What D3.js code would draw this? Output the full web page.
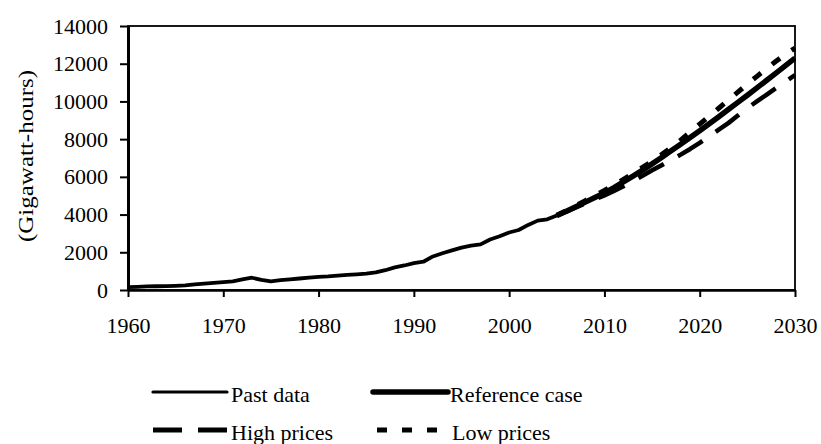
<!DOCTYPE html>
<html><head><meta charset="utf-8">
<script src="https://cdn.jsdelivr.net/npm/d3@7"></script>
<style>
html,body{margin:0;padding:0;background:#fff;}
svg text{font-family:"Liberation Serif","Times New Roman",serif;fill:#000;}
</style></head>
<body><svg id="c" width="821" height="444"></svg>
<script>
const pastYears = d3.range(1960, 2006);
const pastValues = [150,170,190,200,210,220,240,300,340,380,420,460,560,650,540,460,520,560,610,660,700,720,760,800,830,870,930,1050,1200,1300,1420,1500,1780,1950,2100,2250,2350,2420,2680,2850,3050,3180,3450,3680,3750,3950];
const projYears = d3.range(2005, 2031);
const referenceValues = [3950,4180,4420,4660,4900,5150,5430,5730,6040,6360,6690,7030,7380,7730,8090,8450,8820,9190,9570,9950,10330,10720,11110,11500,11900,12300];
const highValues = [3950,4150,4380,4600,4800,5020,5250,5500,5780,6060,6350,6620,6900,7180,7480,7800,8150,8500,8850,9250,9650,10000,10350,10700,11050,11400];
const lowValues = [3950,4210,4470,4740,5010,5280,5570,5870,6180,6500,6830,7180,7550,7950,8370,8800,9220,9640,10070,10490,10920,11330,11730,12130,12490,12830];
const xTicks = [1960,1970,1980,1990,2000,2010,2020,2030];
const yTicks = [0,2000,4000,6000,8000,10000,12000,14000];
const yLabel = "(Gigawatt-hours)";
const legendNames = ["Past data","Reference case","High prices","Low prices"];

const svg = d3.select("#c");
const L = 128, R = 795, T = 26, B = 290;
const x = d3.scaleLinear().domain([1960, 2030]).range([L, R]);
const y = d3.scaleLinear().domain([0, 14000]).range([B, T]);

// frame
svg.append("rect").attr("x", L).attr("y", T).attr("width", R - L).attr("height", B - T)
  .attr("fill", "none").attr("stroke", "#000").attr("stroke-width", 1.8);

svg.append("defs").append("clipPath").attr("id","clip")
  .append("rect").attr("x", L).attr("y", T - 2).attr("width", R - L + 1).attr("height", B - T + 2);

const line = d3.line().x(d => x(d[0])).y(d => y(d[1]));
const g = svg.append("g").attr("clip-path", "url(#clip)");
const series = [
  {name: legendNames[0], years: pastYears, vals: pastValues, w: 3.8, dash: null},
  {name: legendNames[2], years: projYears, vals: highValues, w: 4.5, dash: "29,16"},
  {name: legendNames[3], years: projYears, vals: lowValues, w: 5, dash: "10,14"},
  {name: legendNames[1], years: projYears, vals: referenceValues, w: 5.5, dash: null}
];
series.forEach(s => {
  g.append("path").datum(s.years.map((yr, i) => [yr, s.vals[i]]))
    .attr("d", line).attr("fill", "none").attr("stroke", "#000")
    .attr("stroke-width", s.w).attr("stroke-linejoin", "round")
    .attr("stroke-dasharray", s.dash);
});

// axes
const ax = svg.append("g").attr("transform", `translate(0,${B})`)
  .call(d3.axisBottom(x).tickValues(xTicks).tickFormat(d3.format("d")).tickSize(7).tickSizeOuter(0).tickPadding(20));
const ay = svg.append("g").attr("transform", `translate(${L},0)`)
  .call(d3.axisLeft(y).tickValues(yTicks).tickFormat(d3.format("d")).tickSize(8).tickSizeOuter(0).tickPadding(12));
[ax, ay].forEach(a => {
  a.selectAll("text").attr("font-size", 22).attr("font-family", '"Liberation Serif",serif');
  a.selectAll("line").attr("stroke", "#000").attr("stroke-width", 2);
});
ax.select(".domain").attr("stroke", "#000").attr("stroke-width", 2.5);
ay.select(".domain").attr("stroke", "#000").attr("stroke-width", 3);

svg.append("text").attr("transform", "translate(25,156) rotate(-90)")
  .attr("text-anchor", "middle").attr("font-size", 22)
  .attr("dominant-baseline", "central")
  .attr("textLength", 172).attr("lengthAdjust", "spacingAndGlyphs")
  .text(yLabel);

// legend
const leg = [
  {name: legendNames[0], x1: 153, x2: 227, y: 392, w: 3.2, dash: null, tx: 231},
  {name: legendNames[1], x1: 373, x2: 448, y: 392, w: 5.5, dash: null, tx: 450},
  {name: legendNames[2], x1: 153, x2: 227, y: 430, w: 5, dash: "29,16", tx: 231},
  {name: legendNames[3], x1: 377, x2: 438, y: 430, w: 5, dash: "10,15", tx: 452}
];
leg.forEach(l => {
  svg.append("line").attr("x1", l.x1).attr("x2", l.x2).attr("y1", l.y).attr("y2", l.y)
    .attr("stroke", "#000").attr("stroke-width", l.w)
    .attr("stroke-linecap", l.dash ? "butt" : "round")
    .attr("stroke-dasharray", l.dash);
  svg.append("text").attr("x", l.tx).attr("y", l.y + 10).attr("font-size", 22).text(l.name);
});
</script></body></html>
